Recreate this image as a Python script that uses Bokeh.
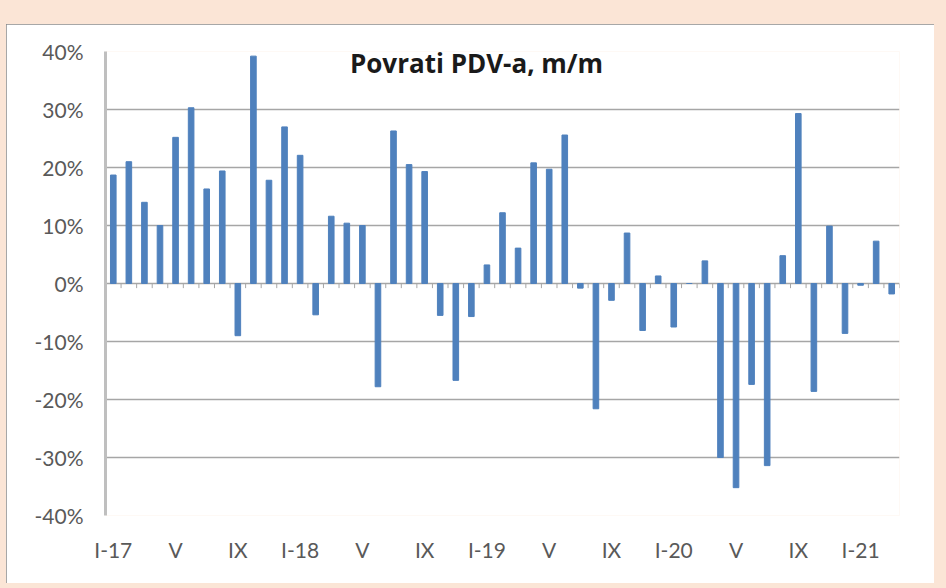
from bokeh.plotting import figure
from bokeh.models import FixedTicker, NumeralTickFormatter, Label, Range1d, ColumnDataSource
from bokeh.embed import file_html
from bokeh.resources import INLINE

# ---- data ----
roman = ["I", "II", "III", "IV", "V", "VI", "VII", "VIII", "IX", "X", "XI", "XII"]
years = ["17", "18", "19", "20", "21"]
months = [f"{m}-{y}" for y in years for m in roman][:51]   # I-17 ... III-21

values = [18.7, 21.0, 14.0, 10.0, 25.2, 30.3, 16.3, 19.4, -9.0, 39.2, 17.8, 27.0,
          22.1, -5.4, 11.6, 10.4, 10.0, -17.8, 26.3, 20.5, 19.3, -5.5, -16.7, -5.7,
          3.2, 12.2, 6.1, 20.8, 19.7, 25.6, -0.8, -21.6, -2.9, 8.7, -8.1, 1.3,
          -7.5, 0.0, 3.9, -30.0, -35.2, -17.4, -31.4, 4.8, 29.3, -18.6, 9.9, -8.6,
          -0.3, 7.3, -1.8]

tick_labels = ["I-17", "V", "IX", "I-18", "V", "IX", "I-19", "V", "IX", "I-20", "V", "IX", "I-21"]
y_ticks = [-0.4, -0.3, -0.2, -0.1, 0.0, 0.1, 0.2, 0.3, 0.4]
title_text = "Povrati PDV-a, m/m"

# ---- build ----
xs = list(range(len(months)))
src = ColumnDataSource(dict(x=xs, v=[v / 100 for v in values], m=months))

p = figure(width=928, height=559, x_range=Range1d(-0.5, len(months) - 0.5),
           y_range=Range1d(-0.4, 0.4), output_backend="svg", toolbar_location=None,
           min_border_left=99, min_border_right=35, min_border_top=27, min_border_bottom=68)
p.margin = (24, 0, 0, 6)
p.styles = {"outline": "2px solid #8A8A8A", "outline-offset": "-2px"}
p.background_fill_color = "white"
p.border_fill_color = "white"
p.outline_line_color = None

p.vbar(x="x", top="v", width=0.36, color="#4F81BD", source=src)

# category tick marks hanging from the zero line
bounds = [i - 0.5 for i in range(len(months) + 1)]
p.segment(x0=bounds, y0=[0] * len(bounds), x1=bounds, y1=[-0.008] * len(bounds),
          line_color="#A6A6A6", line_width=1)

p.ygrid.grid_line_color = "#A6A6A6"
p.ygrid.grid_line_width = 1.5
p.xgrid.visible = False

font = "Lato"
p.yaxis.ticker = FixedTicker(ticks=y_ticks)
p.yaxis.formatter = NumeralTickFormatter(format="0%")
p.yaxis.axis_line_color = "#BFBFBF"
p.yaxis.axis_line_width = 3
p.yaxis.major_tick_line_color = None
p.yaxis.minor_tick_line_color = None
p.yaxis.major_label_text_font = font
p.yaxis.major_label_text_font_size = "21px"
p.yaxis.major_label_text_color = "#595959"
p.yaxis.major_label_standoff = 16

tick_pos = [i * 4 for i in range(len(tick_labels))]
p.xaxis.ticker = FixedTicker(ticks=tick_pos)
p.xaxis.major_label_overrides = {t: lab for t, lab in zip(tick_pos, tick_labels)}
p.xaxis.axis_line_color = None
p.xaxis.major_tick_line_color = None
p.xaxis.minor_tick_line_color = None
p.xaxis.major_label_text_font = font
p.xaxis.major_label_text_font_size = "21px"
p.xaxis.major_label_text_color = "#595959"
p.xaxis.major_label_standoff = 15

p.add_layout(Label(x=15.2, y=0.381, text=title_text, text_font="Open Sans",
                   text_font_style="bold", text_font_size="26px", text_color="#1A1A1A",
                   text_baseline="alphabetic"))

html = file_html(p, INLINE)
html = html.replace("</head>", "<style>body{background:#FBE5D6;}</style></head>", 1)
open("out.html", "w").write(html)
